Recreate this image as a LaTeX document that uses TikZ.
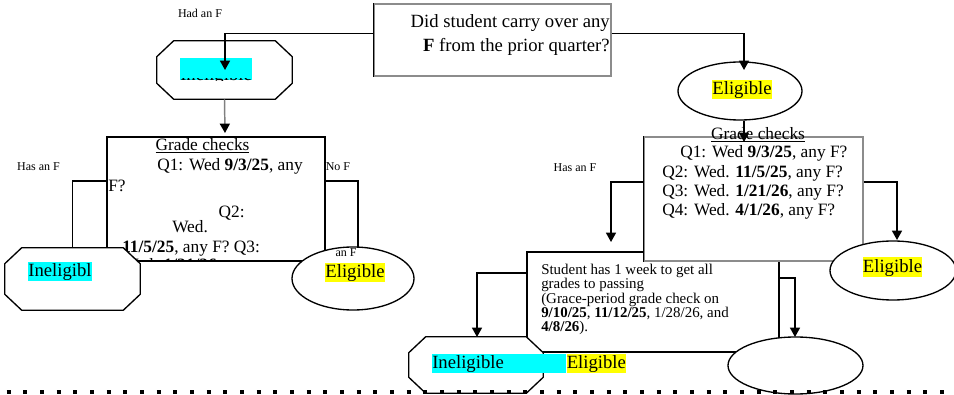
\documentclass[tikz,border=0pt]{standalone}
\usepackage{fontspec}
\setmainfont{Liberation Serif}
\usetikzlibrary{arrows.meta,shapes.geometric}

\definecolor{hlcyan}{RGB}{0,255,255}
\definecolor{hlyellow}{RGB}{255,255,0}

\newlength{\upx}
\setlength{\upx}{0.75pt}

% octagon frame round a named node
\newcommand{\octframe}[1]{%
  \draw[line width=1pt, fill=white]
    ([xshift=17\upx]#1.north west) -- ([xshift=-17\upx]#1.north east)
    -- ([yshift=-16\upx]#1.north east) -- ([yshift=16\upx]#1.south east)
    -- ([xshift=-17\upx]#1.south east) -- ([xshift=17\upx]#1.south west)
    -- ([yshift=16\upx]#1.south west) -- ([yshift=-16\upx]#1.north west) -- cycle;}

\begin{document}
\begin{tikzpicture}[x=0.75pt, y=-0.75pt,
    box/.style={draw, line width=0.9pt, fill=white, inner sep=0pt},
    oct/.style={inner sep=0pt},
    oval/.style={ellipse, draw, line width=1pt, fill=white, inner sep=0pt},
    conn/.style={line width=1.1pt, -{Triangle[width=7.5pt,length=7pt]}},
    gconn/.style={line width=1.1pt, draw=black!50, -{Triangle[width=7.5pt,length=7pt,color=black]}},
    wire/.style={line width=1.1pt},
    lbl/.style={font=\fontsize{9}{11}\selectfont, inner sep=0pt},
    qtxt/.style={font=\fontsize{14}{18}\selectfont, inner sep=0pt},
    ctxt/.style={font=\fontsize{13}{16}\selectfont, inner sep=0pt, text height=8.8pt, text depth=2.6pt},
    stxt/.style={font=\fontsize{11.2}{10.7}\selectfont, inner sep=0pt},
    hiyel/.style={fill=hlyellow, inner sep=0pt, font=\fontsize{14}{17}\selectfont,
      text height=11.5pt, text depth=3.4pt},
    hicyan/.style={hiyel, fill=hlcyan}
  ]
  \useasboundingbox (0,0) rectangle (954,395);

  % Define coordinates (arrow ends)
  \coordinate (tipA) at (225,70);
  \coordinate (tipB) at (225,133);
  \coordinate (tipC) at (358,248);
  \coordinate (tipD) at (744,70);
  \coordinate (tipE) at (744,142);
  \coordinate (tipF) at (611,242);
  \coordinate (tipG) at (897,240);
  \coordinate (tipH) at (477,337);
  \coordinate (tipI) at (795,337);

  % Question at the top
  \node[box, draw=black!45, minimum width=237\upx, minimum height=72\upx] (topq) at (492.5,40) {};
  \draw[line width=0.9pt] (topq.south west) -- (topq.north west);
  \node[qtxt, anchor=north east, align=right] (topq-t) at (610,14)
    {Did student carry over any\\ \textbf{F} from the prior quarter?};
  \node[lbl] (hadF) at (200,13) {Had an F};

  % Left branch: had an F
  \node[oct, minimum width=135\upx, minimum height=58\upx] (inelA) at (224.5,70) {};
  \octframe{inelA}
  \node[hicyan, minimum width=72\upx, minimum height=22\upx] (inelA-hl) at (216,69) {};
  \begin{scope}
    \clip (180,78.3) rectangle (252,80.8);
    \node[qtxt, anchor=base west] (inelA-t) at (180,80.5) {Ineligible};
  \end{scope}
  \draw[conn] (topq.west |- 0,33.5) -| (tipA);

  \node[box, minimum width=218\upx, minimum height=124\upx] (gradeL) at (216,199) {};
  \begin{scope}
    \clip (gradeL.north west) rectangle (gradeL.south east);
    \node[ctxt] (gradeL-h) at (202.5,146) {\underline{Grade checks}};
    \node[ctxt, anchor=west] (gl1) at (157,166) {Q1: Wed \textbf{9/3/25}, any};
    \node[ctxt, anchor=west] (gl2) at (108,187) {F?};
    \node[ctxt, anchor=east] (gl3) at (245,213) {Q2:};
    \node[ctxt, anchor=west] (gl4) at (172,228) {Wed.};
    \node[ctxt, anchor=west] (gl5) at (122,248) {\textbf{11/5/25}, any F? Q3:};
    \node[ctxt, anchor=base west] (gl6) at (122,271) {Wed. \textbf{1/21/26}};
  \end{scope}
  \draw[gconn] (inelA.south) -- (tipB);

  \node[lbl] (hasF1) at (38.5,167) {Has an F};
  \node[lbl] (noF) at (338,167) {No F};

  \node[oct, minimum width=135\upx, minimum height=62\upx] (inelB) at (72.5,279) {};
  \octframe{inelB}
  \node[hicyan] (inelB-t) at (60,271.5) {Ineligibl};
  \node[oval, minimum width=122\upx, minimum height=63\upx] (eligA) at (353,278.5) {};
  \node[lbl] (anF) at (346,253) {an F};
  \node[hiyel] (eligA-t) at (355,272.5) {Eligible};
  \draw[wire] (gradeL.west |- 0,181) -| (inelB.north);
  \draw[wire] (gradeL.east |- 0,181) -| (tipC);

  % Right branch: no F
  \node[oval, minimum width=124\upx, minimum height=58\upx] (eligTop) at (740,91) {};
  \node[hiyel] (eligTop-t) at (742,89.5) {Eligible};
  \draw[conn] (topq.east |- 0,33.5) -| (tipD);

  \node[box, minimum width=252\upx, minimum height=100\upx] (stud) at (653,302) {};
  \node[stxt, anchor=north west, align=left] (stud-t) at (541,264)
    {Student has 1 week to get all\\grades to passing\\(Grace-period grade check on\\
     \textbf{9/10/25}, \textbf{11/12/25}, 1/28/26, and\\\textbf{4/8/26}).};

  \node[box, draw=black!45, minimum width=219\upx, minimum height=124\upx] (gradeR) at (753.5,199) {};
  \draw[line width=0.9pt] (gradeR.north west) -- (gradeR.south west);
  \node[ctxt] (gradeR-h) at (758,135) {\underline{Grade checks}};
  \node[ctxt, anchor=west] (q1) at (680,153) {Q1: Wed \textbf{9/3/25}, any F?};
  \node[ctxt, anchor=west] (q2) at (662,173) {Q2: Wed. \textbf{11/5/25}, any F?};
  \node[ctxt, anchor=west] (q3) at (662,192) {Q3: Wed. \textbf{1/21/26}, any F?};
  \node[ctxt, anchor=west] (q4) at (662,211) {Q4: Wed. \textbf{4/1/26}, any F?};
  \draw[conn] (eligTop.south -| tipE) -- (tipE);

  \node[lbl] (hasF2) at (575,168) {Has an F};
  \draw[conn] (gradeR.west |- 0,182) -| (tipF);
  \draw[conn] (gradeR.east |- 0,182) -| (tipG);

  \node[oval, minimum width=126\upx, minimum height=59\upx] (eligR) at (893,270.5) {};
  \node[hiyel] (eligR-t) at (892.5,267) {Eligible};

  % Grace period outcomes
  \draw[conn] (stud.west |- 0,273) -| (tipH);
  \draw[conn] (stud.east |- 0,278) -| (tipI);
  \node[oct, minimum width=134\upx, minimum height=56\upx] (inelC) at (476,365) {};
  \octframe{inelC}
  \node[oval, minimum width=135\upx, minimum height=57\upx] (eligD) at (795.5,365.5) {};
  \node[hicyan, anchor=west] (inelC-t) at (432,363.5) {\makebox[134\upx][l]{Ineligible}};
  \node[hiyel, anchor=west] (inelC-t2) at (inelC-t.east) {Eligible};

  % Dotted rule at the bottom
  \draw[line width=3pt, dash pattern=on 3pt off 9.5pt] (6.7,392) -- (954,392);
\end{tikzpicture}
\end{document}
